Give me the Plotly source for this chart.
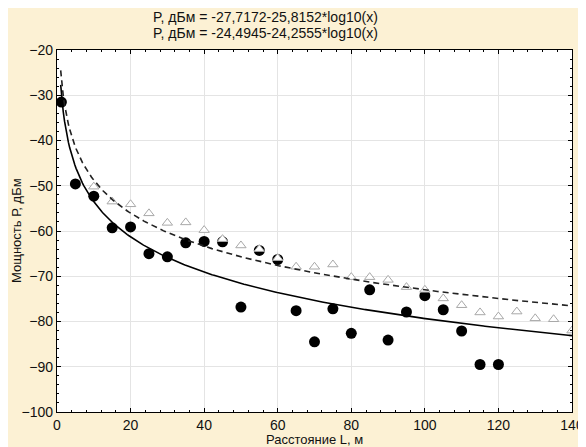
import numpy as np
import plotly.graph_objects as go

# measured points (filled circles)
dist_meas = [1.2, 5, 10, 15, 20, 25, 30, 35, 40, 45, 50, 55, 60, 65, 70, 75, 80, 85, 90, 95, 100, 105, 110, 115, 120]
p_meas = [-31.5, -49.6, -52.3, -59.3, -59.1, -65.0, -65.7, -62.6, -62.3, -62.4, -76.8, -64.3, -66.3, -77.6, -84.5, -77.2, -82.6, -73.0, -84.1, -77.9, -74.3, -77.4, -82.1, -89.5, -89.5]

# second series (open triangles)
dist_tri = [10, 15, 20, 25, 30, 35, 40, 45, 50, 55, 60, 65, 70, 75, 80, 85, 90, 95, 100, 105, 110, 115, 120, 125, 130, 135, 140]
p_tri = [-50.2, -53.5, -54.1, -56.1, -58.2, -58.1, -59.8, -61.8, -63.2, -64.0, -66.0, -67.9, -67.9, -67.4, -70.2, -70.2, -70.8, -72.4, -73.0, -74.9, -76.4, -78.0, -78.9, -77.8, -79.3, -79.5, -82.0]

# regression coefficients shown in the title
fit1_a, fit1_b = -27.7172, -25.8152
fit2_a, fit2_b = -24.4945, -24.2555
fit_x = np.linspace(1, 140, 400)

title1 = "P, дБм = -27,7172-25,8152*log10(x)"
title2 = "P, дБм = -24,4945-24,2555*log10(x)"
x_title = "Расстояние L, м"
y_title = "Мощность Р, дБм"

cream = "#fcf1d4"
font = "Liberation Sans, Arial, sans-serif"
txt = "#111"

fig = go.Figure()
fig.add_trace(go.Scatter(x=dist_meas, y=p_meas, mode="markers",
                         marker=dict(symbol="circle", size=11, color="black"),
                         showlegend=False))
fig.add_trace(go.Scatter(x=dist_tri, y=p_tri, mode="markers",
                         marker=dict(symbol="triangle-up", size=9, color="white",
                                     line=dict(color="#a8a8a8", width=1)),
                         showlegend=False))
fig.add_trace(go.Scatter(x=fit_x, y=fit1_a + fit1_b * np.log10(fit_x), mode="lines",
                         line=dict(color="black", width=1.6), showlegend=False))
fig.add_trace(go.Scatter(x=fit_x, y=fit2_a + fit2_b * np.log10(fit_x), mode="lines",
                         line=dict(color="#222222", width=1.6, dash="6px,4px"), showlegend=False))

axis_common = dict(showline=True, linecolor="black", linewidth=1.2, mirror="ticks",
                   ticks="inside", ticklen=4, tickcolor="black", automargin=False,
                   showgrid=True, gridcolor="#e4e4e4", gridwidth=1, zeroline=False,
                   tickfont=dict(family=font, size=14, color=txt))

fig.update_xaxes(range=[0, 140], dtick=20, tick0=0,
                 minor=dict(ticks="inside", dtick=4, ticklen=2, tickcolor="black", showgrid=False),
                 **axis_common)
fig.update_yaxes(range=[-100, -20], dtick=10, tick0=-100,
                 minor=dict(ticks="inside", dtick=2, ticklen=2, tickcolor="black", showgrid=False),
                 **axis_common)

fig.add_annotation(text=title1, xref="paper", yref="paper", x=0.404, y=1.0912, yanchor="middle",
                   showarrow=False, font=dict(family=font, size=14, color=txt))
fig.add_annotation(text=title2, xref="paper", yref="paper", x=0.404, y=1.047, yanchor="middle",
                   showarrow=False, font=dict(family=font, size=14, color=txt))
fig.add_annotation(text=x_title, xref="paper", yref="paper", x=0.5, y=-0.0755, yanchor="middle",
                   xanchor="center", showarrow=False, font=dict(family=font, size=13, color=txt))
fig.add_annotation(text=y_title, xref="paper", yref="paper", x=-0.0796, y=0.5, yanchor="middle",
                   xanchor="center", textangle=-90, showarrow=False,
                   font=dict(family=font, size=13, color=txt))

# the page body keeps its default 8px margin, so the figure sits at (8, 8)
fig.update_layout(width=578, height=439,
                  margin=dict(l=49, r=14, t=42, b=35),
                  paper_bgcolor=cream, plot_bgcolor="white",
                  font=dict(family=font))

fig.write_html("out.html")
